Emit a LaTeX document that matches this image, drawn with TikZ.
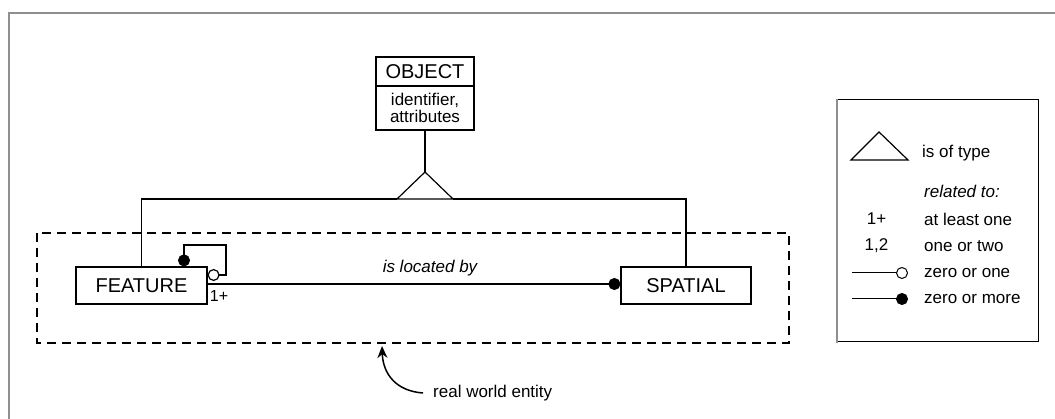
\documentclass[tikz,border=0pt]{standalone}
\usepackage{fontspec}
\setmainfont{Liberation Sans}
\usetikzlibrary{arrows.meta}
\definecolor{framegray}{HTML}{8F8F8F}
\begin{document}
\begin{tikzpicture}[x=1pt,y=-1pt,
  box/.style={draw, line width=1.2pt, inner sep=0pt, font=\fontsize{20}{24}\selectfont},
  lbl/.style={inner sep=0pt, font=\fontsize{17}{20}\selectfont},
  link/.style={line width=1.2pt},
  entity/.style={line width=1.6pt, dash pattern=on 9pt off 6pt},
  frameline/.style={framegray, line width=2pt}
]
\useasboundingbox (0,0) rectangle (1055,419);
\fill[white] (0,0) rectangle (1055,419);
% outer frame (top and left)
\draw[frameline] (9,419) -- (9,13) -- (1055,13);

% OBJECT
\node[box, minimum width=98pt, minimum height=29pt] (objt) at (425,71.5) {OBJECT};
\node[box, minimum width=98pt, minimum height=44pt, align=center,
      font=\fontsize{17}{17.5}\selectfont] (objb) at (425,108) {identifier,\\attributes};

% generalisation triangle
\coordinate (apex) at (425,172);
\coordinate (bl) at (397,199);
\coordinate (br) at (453,199);
\draw[link, line join=miter] (apex) -- (bl) -- (br) -- cycle;
\draw[link] (objb.south) -- (apex);

% FEATURE and SPATIAL
\node[box, minimum width=131pt, minimum height=37pt] (feature) at (141.5,285.5) {FEATURE};
\node[box, minimum width=130pt, minimum height=37pt] (spatial) at (686,285.5) {SPATIAL};

\draw[link] (feature.north) |- (bl);
\draw[link] (spatial.north) |- (br);

% is located by
\draw[link, -{Circle[length=12pt,width=12pt]}] ([yshift=1.5pt]feature.east) -- ([yshift=1.5pt]spatial.west);
\node[lbl, font=\fontsize{17}{20}\selectfont\itshape] (loc) at (430,268) {is located by};
\node[lbl, font=\fontsize{16}{19}\selectfont] (one) at (219,296) {1+};

% self relation
\draw[link, {Circle[length=12pt,width=12pt]}-{Circle[open,length=12pt,width=12pt]}]
  ([xshift=42.5pt]feature.north) |- (226,245) |- ([yshift=10.5pt]feature.east);

% real world entity
\draw[entity] (37,233) rectangle (789,343);
\node[lbl, anchor=west] (rw) at (433,393) {real world entity};
\coordinate (rwtip) at (382,346);
\draw[line width=1.5pt, -{Stealth[length=12pt,width=10pt]}]
  ([xshift=-10pt]rw.west) .. controls (396,391) and (383,374) .. (rwtip);

% legend
\draw[line width=1pt] (837,100) -- (1038,100) -- (1038,342) -- (837,342);
\draw[frameline] (837,99) -- (837,343);
\draw[link, line join=miter] (879,132) -- (851,160) -- (908,160) -- cycle;
\node[lbl, anchor=west] (ltype) at (922,153) {is of type};
\node[lbl, anchor=west, font=\fontsize{17}{20}\selectfont\itshape] (lrel) at (924,191) {related to:};
\node[lbl] (lone) at (876.5,219) {1+};
\node[lbl, anchor=west] (lone2) at (924,219) {at least one};
\node[lbl] (ltwo) at (876.5,246) {1,2};
\node[lbl, anchor=west] (ltwo2) at (924,246) {one or two};
\node[lbl, anchor=west] (lzo) at (924,273) {zero or one};
\node[lbl, anchor=west] (lzm) at (924,299) {zero or more};
\coordinate (zoa) at (852,273);
\coordinate (zob) at (908,273);
\coordinate (zma) at (852,299);
\coordinate (zmb) at (908,299);
\draw[line width=1pt, -{Circle[open,length=12pt,width=12pt]}] (zoa) -- (zob);
\draw[line width=1pt, -{Circle[length=12pt,width=12pt]}] (zma) -- (zmb);
\end{tikzpicture}
\end{document}
